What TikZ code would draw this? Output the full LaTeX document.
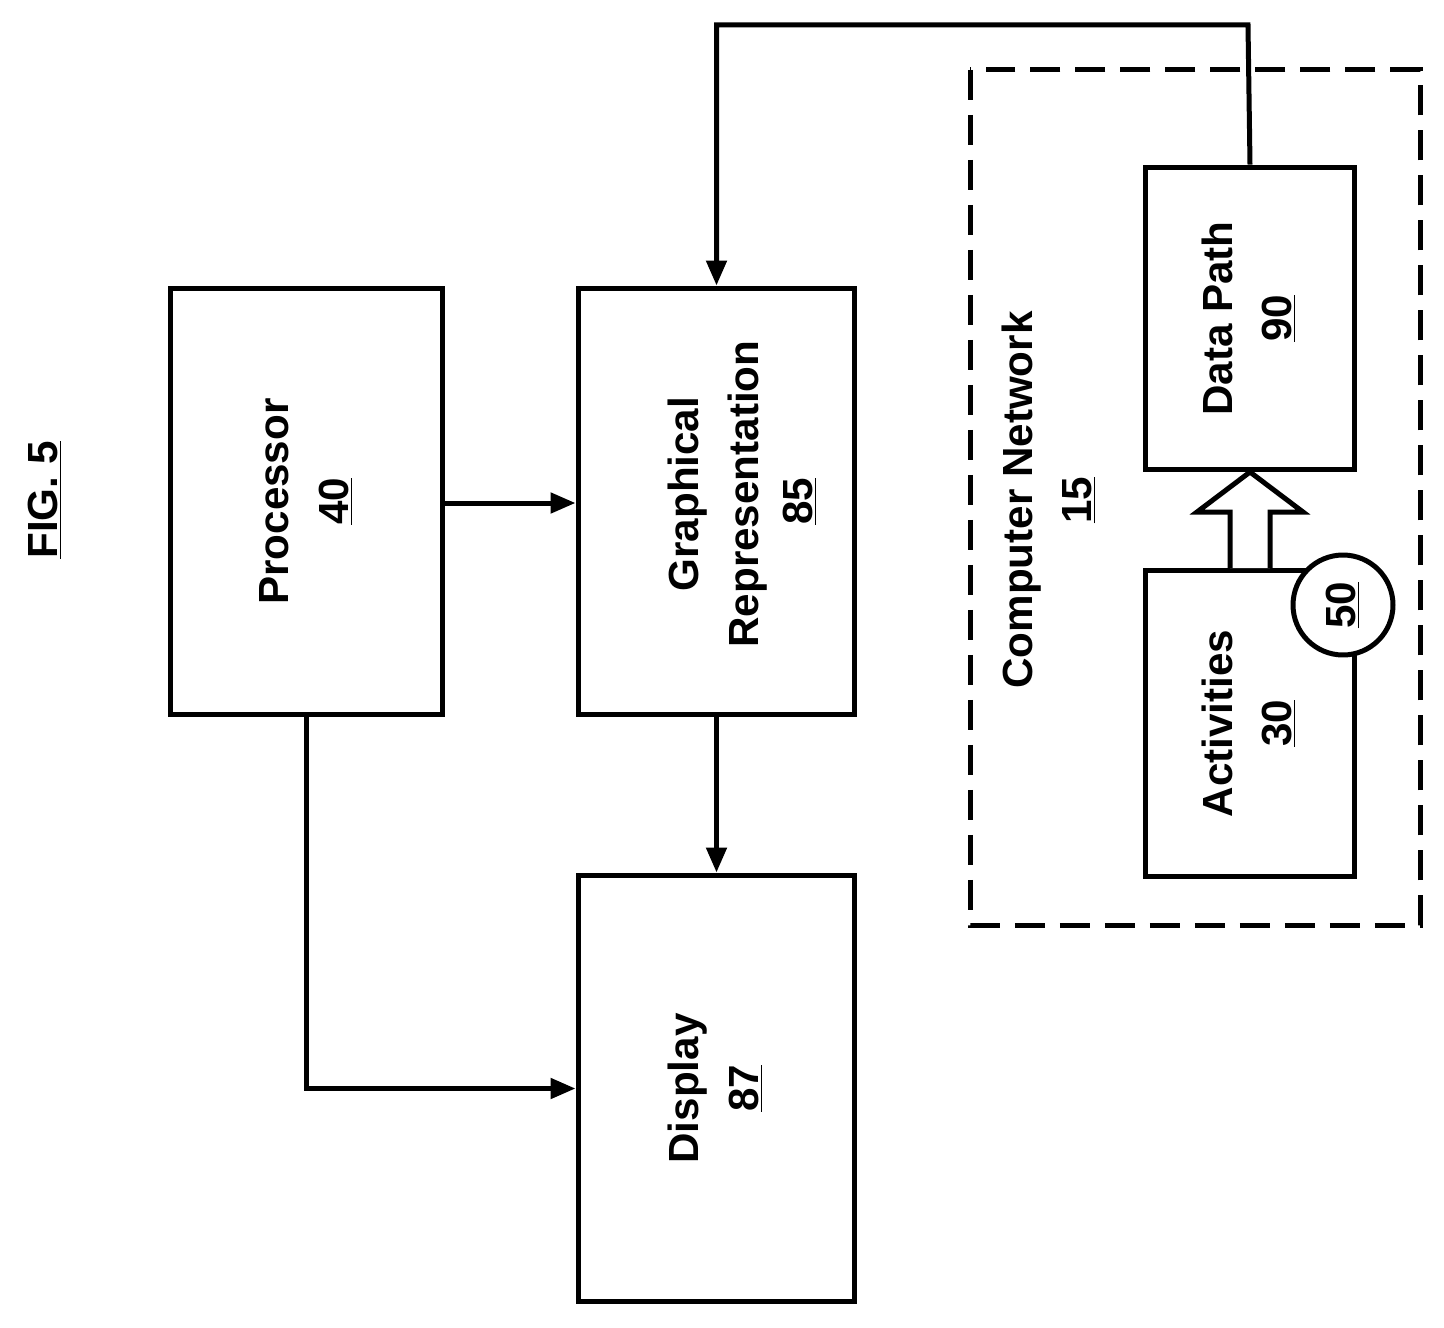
\documentclass[tikz,border=0pt]{standalone}
\usepackage{fontspec}
\setmainfont{Liberation Sans}
\usetikzlibrary{arrows.meta,positioning}
\tikzset{>={Triangle[length=0.5cm,width=0.4cm]}}
\tikzset{
  blk/.style={draw, line width=0.1cm, align=center, inner sep=0pt},
  lnk/.style={line width=0.1cm, ->},
}
\newcommand{\rlabel}[2]{\rotatebox{90}{\begin{tabular}{@{}c@{}}#1\\#2\end{tabular}}}
\begin{document}
\begin{tikzpicture}[x=0.02cm, y=-0.02cm, font=\fontsize{24}{34}\selectfont\bfseries]
        \useasboundingbox (0,0) rectangle (1444,1328);

        %title
        \node (fig) at (45,500) {\rotatebox{90}{\underline{FIG. 5}}};

        %blocks
        \node[blk, minimum width=5.46cm, minimum height=8.54cm] (proc) at (306.5,501.5) {\rlabel{Processor}{\underline{40}}};
        \node[blk, minimum width=5.54cm, minimum height=8.54cm] (graph) at (716.5,501.5) {\rlabel{Graphical}{Representation}\\[-0.9cm]};
        \node (graphnum) at (800,501.5) {\rotatebox{90}{\underline{85}}};
        \node[blk, minimum width=5.54cm, minimum height=8.54cm] (disp) at (716.5,1088.5) {\rlabel{Display}{\underline{87}}};

        %computer network
        \draw[line width=0.1cm, dash pattern=on 0.6cm off 0.3cm] (970,70) rectangle (1420,925);
        \node (net) at (1050,500) {\rlabel{Computer Network}{\underline{15}}};
        \node[blk, minimum width=4.2cm, minimum height=6.06cm] (path) at (1250,318.5) {\rlabel{Data Path}{\underline{90}}};
        \node[blk, minimum width=4.2cm, minimum height=6.14cm] (act) at (1250,723.5) {\rlabel{Activities}{\underline{30}}};
        \node[blk, circle, fill=white, minimum size=2cm] (ev) at (1343,605) {\rotatebox{90}{\underline{50}}};

        %hollow arrow
        \draw[line width=0.1cm, fill=white, line join=miter] (1230,568) -- (1230,512) -- (1197,512) -- (1250,472) -- (1303,512) -- (1270,512) -- (1270,568);

        %links
        \draw[lnk] (proc.east |- 0,503) -- (graph.west |- 0,503);
        \draw[lnk] (graph.south) -- (disp.north);
        \draw[lnk] (proc.south) |- (disp.west);
        \coordinate (top) at (1248,25);
        \draw[lnk] (path.north) -- (top) -| (graph.north);
\end{tikzpicture}
\end{document}
